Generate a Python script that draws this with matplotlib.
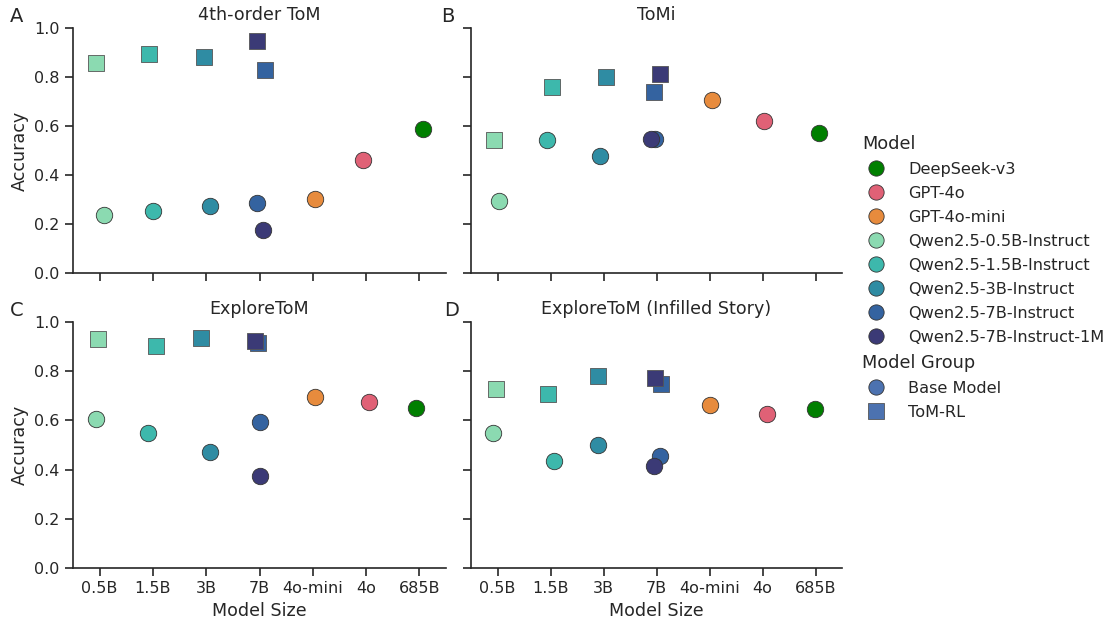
import matplotlib
matplotlib.use("Agg")
import matplotlib.pyplot as plt
from matplotlib.lines import Line2D
import seaborn as sns

# categories and models
sizes = ["0.5B", "1.5B", "3B", "7B", "4o-mini", "4o", "685B"]
models = ["DeepSeek-v3", "GPT-4o", "GPT-4o-mini", "Qwen2.5-0.5B-Instruct",
          "Qwen2.5-1.5B-Instruct", "Qwen2.5-3B-Instruct",
          "Qwen2.5-7B-Instruct", "Qwen2.5-7B-Instruct-1M"]
model_size = ["685B", "4o", "4o-mini", "0.5B", "1.5B", "3B", "7B", "7B"]
model_colors = ["#007f00", "#e06176", "#e78b3d", "#8bdab1", "#3db8ac",
                "#2f8ca3", "#3463a0", "#3b3a76"]
panels = ["4th-order ToM", "ToMi", "ExploreToM", "ExploreToM (Infilled Story)"]
letters = ["A", "B", "C", "D"]

# accuracy per panel, order of `models`; None = not evaluated
base_acc = {
    "4th-order ToM": [0.586, 0.461, 0.302, 0.237, 0.252, 0.273, 0.287, 0.177],
    "ToMi": [0.570, 0.620, 0.706, 0.294, 0.541, 0.478, 0.547, 0.548],
    "ExploreToM": [0.650, 0.673, 0.694, 0.606, 0.549, 0.473, 0.593, 0.374],
    "ExploreToM (Infilled Story)": [0.648, 0.626, 0.661, 0.550, 0.436, 0.498, 0.457, 0.416],
}
rl_acc = {
    "4th-order ToM": [None, None, None, 0.858, 0.894, 0.883, 0.829, 0.946],
    "ToMi": [None, None, None, 0.543, 0.758, 0.801, 0.739, 0.812],
    "ExploreToM": [None, None, None, 0.932, 0.901, 0.935, 0.915, 0.923],
    "ExploreToM (Infilled Story)": [None, None, None, 0.726, 0.707, 0.782, 0.746, 0.774],
}
# strip jitter (category units)
base_jit = {
    "4th-order ToM": [0.075, -0.06, 0.04, 0.075, 0.0, 0.07, -0.05, 0.06],
    "ToMi": [0.07, 0.025, 0.04, 0.03, -0.07, -0.06, -0.03, -0.1],
    "ExploreToM": [-0.07, 0.05, 0.05, -0.075, -0.09, 0.075, 0.01, 0.0],
    "ExploreToM (Infilled Story)": [-0.01, 0.09, 0.01, -0.09, 0.075, -0.095, 0.06, -0.045],
}
rl_jit = {
    "4th-order ToM": [0, 0, 0, -0.075, -0.08, -0.04, 0.11, -0.04],
    "ToMi": [0, 0, 0, -0.06, 0.025, 0.045, -0.045, 0.06],
    "ExploreToM": [0, 0, 0, -0.025, 0.05, -0.09, -0.03, -0.08],
    "ExploreToM (Infilled Story)": [0, 0, 0, -0.025, -0.055, -0.095, 0.085, -0.025],
}

sns.set_theme(style="ticks", context="notebook", font_scale=1.05)
plt.rcParams["font.family"] = ["DejaVu Sans"]

fig = plt.figure(figsize=(11.12, 6.26), dpi=100)
W, H = 1112, 626
boxes = [(73, 28, 446, 273), (471, 28, 842, 273),
         (73, 322, 446, 568), (471, 322, 842, 568)]
letter_pos = [(10, 22), (441, 22), (10, 316), (444, 316)]

for i, name in enumerate(panels):
    x0, y0, x1, y1 = boxes[i]
    ax = fig.add_axes([x0 / W, 1 - y1 / H, (x1 - x0) / W, (y1 - y0) / H])
    for j, m in enumerate(models):
        xc = sizes.index(model_size[j])
        ax.scatter(xc + base_jit[name][j], base_acc[name][j], s=140, marker="o",
                   color=model_colors[j], edgecolor="#333333", linewidth=0.6, zorder=3)
        if rl_acc[name][j] is not None:
            ax.scatter(xc + rl_jit[name][j], rl_acc[name][j], s=140, marker="s",
                       color=model_colors[j], edgecolor="#555555", linewidth=0.6, zorder=3)
    ax.set_xlim(-0.5, 6.5)
    ax.set_ylim(0, 1.0)
    ax.set_xticks(range(len(sizes)))
    ax.set_yticks([0, 0.2, 0.4, 0.6, 0.8, 1.0])
    ax.tick_params(length=6, width=1.2)
    for sp in ax.spines.values():
        sp.set_linewidth(1.2)
    sns.despine(ax=ax)
    ax.set_title(name, pad=6)
    if i >= 2:
        ax.set_xticklabels(sizes)
        ax.set_xlabel("Model Size")
    else:
        ax.set_xticklabels([])
    if i % 2 == 0:
        ax.set_ylabel("Accuracy")
    else:
        ax.set_yticklabels([])
    lx, ly = letter_pos[i]
    fig.text(lx / W, 1 - ly / H, letters[i], fontsize=14, ha="left", va="baseline")

# legend
handles, labels = [], []
blank = Line2D([], [], linestyle="none")
handles.append(blank); labels.append("Model")
for m, c in zip(models, model_colors):
    handles.append(Line2D([], [], marker="o", linestyle="none", markersize=11,
                          markerfacecolor=c, markeredgecolor="#333333", markeredgewidth=0.6))
    labels.append(m)
handles.append(blank); labels.append("Model Group")
handles.append(Line2D([], [], marker="o", linestyle="none", markersize=11,
                      markerfacecolor="#4c72b0", markeredgecolor="#333333", markeredgewidth=0.6))
labels.append("Base Model")
handles.append(Line2D([], [], marker="s", linestyle="none", markersize=11,
                      markerfacecolor="#4c72b0", markeredgecolor="#555555", markeredgewidth=0.6))
labels.append("ToM-RL")
leg = fig.legend(handles, labels, loc="center left", bbox_to_anchor=(0.763, 0.557),
                 frameon=False, fontsize=11.6, labelspacing=0.56, handletextpad=1.2,
                 handlelength=1.6)
for t, lab in zip(leg.get_texts(), labels):
    if lab in ("Model", "Model Group"):
        t.set_fontsize(12.8)
        t.set_position((-46, 0))

fig.savefig("out.png", dpi=100)
